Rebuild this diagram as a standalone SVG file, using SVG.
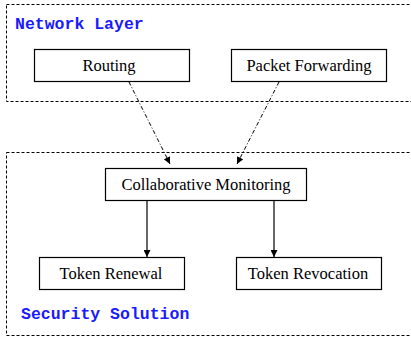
<svg xmlns="http://www.w3.org/2000/svg" width="411" height="341" viewBox="0 0 411 341">
<defs>
<marker id="ah" viewBox="0 0 10 10" refX="10" refY="5" markerWidth="7" markerHeight="7" markerUnits="userSpaceOnUse" orient="auto">
<path d="M0,0 L10,5 L0,10 z" fill="#000"/>
</marker>
<style>
.grp{fill:none;stroke:#000;stroke-width:1;stroke-dasharray:3,2}
.box{fill:#fff;stroke:#000;stroke-width:1.2}
.t{font-family:"Liberation Serif",serif;font-size:16.5px;fill:#000;text-anchor:middle}
.lbl{font-family:"Liberation Mono",monospace;font-size:16.5px;font-weight:bold;fill:#1a1aff}
.dd{fill:none;stroke:#000;stroke-width:1;stroke-dasharray:4,2,1,2;marker-end:url(#ah)}
.sl{fill:none;stroke:#000;stroke-width:1.2;marker-end:url(#ah)}
</style>
</defs>
<rect class="grp" x="6.5" y="4.5" width="420" height="97"/>
<text class="lbl" x="15" y="29">Network Layer</text>
<rect class="grp" x="6.5" y="152.5" width="420" height="183"/>
<text class="lbl" x="21" y="319">Security Solution</text>
<g id="connectors">
<path class="dd" d="M129,82 L170,164"/>
<path class="dd" d="M279,82 L237,164"/>
<path class="sl" d="M147,200 L147,257"/>
<path class="sl" d="M274,200 L274,257"/>
</g>
<g id="routing"><rect class="box" x="34.5" y="49.5" width="155" height="32"/><text class="t" x="109" y="71">Routing</text></g>
<g id="packet-forwarding"><rect class="box" x="231.5" y="49.5" width="155" height="32"/><text class="t" x="309" y="71">Packet Forwarding</text></g>
<g id="collaborative-monitoring"><rect class="box" x="105.5" y="168.5" width="201" height="32"/><text class="t" x="206" y="190">Collaborative Monitoring</text></g>
<g id="token-renewal"><rect class="box" x="39.5" y="257.5" width="145" height="32"/><text class="t" x="111" y="279">Token Renewal</text></g>
<g id="token-revocation"><rect class="box" x="236.5" y="257.5" width="145" height="32"/><text class="t" x="308" y="279">Token Revocation</text></g>
</svg>
